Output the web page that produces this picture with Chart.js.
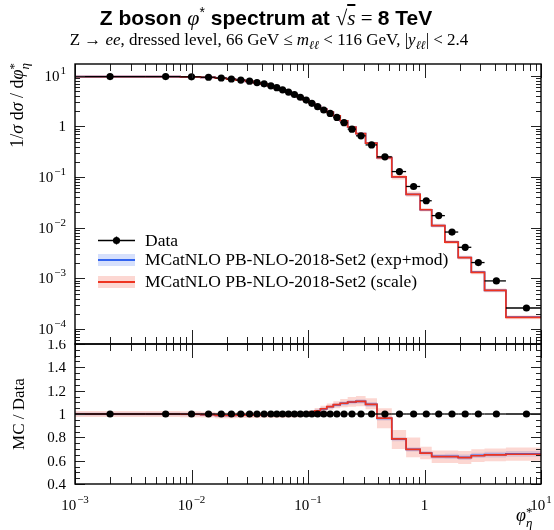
<!DOCTYPE html>
<html>
<head>
<meta charset="utf-8">
<script src="https://cdn.jsdelivr.net/npm/chart.js@4.4.1/dist/chart.umd.min.js"></script>
<style>
body { margin: 0; background: #fff; }
#wrap { position: relative; width: 554px; height: 530px; overflow: hidden; font-family: "Liberation Serif", serif; color: #000; }
canvas { position: absolute; left: 0; }
#main { top: 0; }
#ratio { top: 340px; }
.txt { position: absolute; white-space: nowrap; }
.ss { display: inline-block; vertical-align: -0.45em; line-height: 0.8em; font-size: 0.72em; text-align: left; }
.ss span { display: block; }
.rot { transform: rotate(-90deg); transform-origin: 50% 50%; }
</style>
</head>
<body>
<div id="wrap">
  <canvas id="main" width="554" height="350"></canvas>
  <canvas id="ratio" width="554" height="190"></canvas>

  <div class="txt" style="left:0; width:532px; text-align:center; top:4px; font: bold 21px 'Liberation Sans', sans-serif;">
    Z boson <span style="font: italic 22px 'Liberation Serif', serif;">φ</span><sup style="font-weight:normal;font-size:14px;">*</sup> spectrum at
    <span style="font: 21px 'Liberation Serif', serif;">√<span style="text-decoration: overline; font-style: italic;">s</span> = </span>8 TeV
  </div>
  <div class="txt" style="left:0; width:538px; text-align:center; top:30px; font-size:17px;">
    Z → <i>ee</i>, dressed level, 66 GeV ≤ <i>m</i><sub style="font-size:12px"><i>ℓℓ</i></sub> &lt; 116 GeV, |<i>y</i><sub style="font-size:12px"><i>ℓℓ</i></sub>| &lt; 2.4
  </div>

  <div class="txt rot" style="left:-82px; top:152px; width:200px; height:22px; text-align:right; font-size:18px;">
    1/<i>σ</i> d<i>σ</i> / d<i>φ</i><span class="ss"><span>*</span><span><i>η</i></span></span>
  </div>
  <div class="txt rot" style="left:-80px; top:403px; width:200px; height:22px; text-align:center; font-size:17px;">
    MC / Data
  </div>
  <div class="txt" style="left:516px; top:505px; width:30px; font-size:18px;">
    <i>φ</i><span class="ss"><span>*</span><span><i>η</i></span></span>
  </div>
</div>

<script>
// phi*_eta bin edges (first edge is 0, clamped to the axis minimum when drawn)
const binEdges = [0, 0.004, 0.008, 0.012, 0.016, 0.020, 0.024, 0.029, 0.034, 0.039, 0.045,
    0.051, 0.057, 0.064, 0.072, 0.081, 0.091, 0.102, 0.114, 0.128, 0.145, 0.165, 0.189,
    0.219, 0.258, 0.312, 0.391, 0.524, 0.695, 0.918, 1.153, 1.496, 1.947, 2.522, 3.277, 5, 10];

// measured 1/sigma dsigma/dphi*
const dataVals = [9.6, 9.6, 9.5, 9.3, 9.0, 8.6, 8.2, 7.8, 7.3, 6.9, 6.3, 5.8, 5.25, 4.75,
    4.25, 3.75, 3.3, 2.85, 2.45, 2.1, 1.8, 1.5, 1.18, 0.88, 0.65, 0.43, 0.25, 0.128, 0.065,
    0.034, 0.0173, 0.0082, 0.0041, 0.00205, 0.00089, 0.00026];

// MC / Data, PB-NLO-2018-Set2 (scale)
const scaleRatio = [1.000, 1.000, 0.998, 0.995, 0.988, 0.988, 0.991, 0.991, 0.991, 0.992,
    0.992, 0.993, 0.993, 0.994, 0.995, 0.996, 0.998, 1.011, 1.028, 1.045, 1.063, 1.080, 1.092,
    1.103, 1.109, 1.083, 0.964, 0.786, 0.697, 0.665, 0.634, 0.634, 0.626, 0.642, 0.649, 0.655];
const scaleLo = [0.975, 0.975, 0.973, 0.970, 0.963, 0.963, 0.966, 0.966, 0.966, 0.967,
    0.967, 0.968, 0.968, 0.969, 0.971, 0.973, 0.976, 0.990, 1.005, 1.020, 1.036, 1.050, 1.058,
    1.062, 1.066, 1.040, 0.878, 0.700, 0.630, 0.612, 0.580, 0.580, 0.572, 0.588, 0.594, 0.600];
const scaleHi = [1.025, 1.025, 1.023, 1.020, 1.013, 1.013, 1.016, 1.016, 1.016, 1.017,
    1.017, 1.018, 1.018, 1.019, 1.020, 1.021, 1.022, 1.034, 1.052, 1.070, 1.090, 1.110, 1.128,
    1.145, 1.155, 1.135, 1.050, 0.862, 0.798, 0.720, 0.688, 0.688, 0.682, 0.698, 0.705, 0.712];

// MC / Data, PB-NLO-2018-Set2 (exp+mod)
const expRatio = [1.000, 1.000, 0.998, 0.995, 0.989, 0.989, 0.991, 0.991, 0.992, 0.992,
    0.992, 0.993, 0.994, 0.994, 0.995, 0.996, 0.998, 1.010, 1.027, 1.044, 1.062, 1.079, 1.091,
    1.102, 1.108, 1.082, 0.963, 0.785, 0.696, 0.664, 0.636, 0.637, 0.629, 0.645, 0.652, 0.658];
const expLo = [0.988, 0.988, 0.986, 0.983, 0.977, 0.977, 0.979, 0.979, 0.980, 0.980,
    0.980, 0.981, 0.982, 0.982, 0.983, 0.984, 0.986, 0.997, 1.013, 1.030, 1.047, 1.063, 1.074,
    1.084, 1.089, 1.062, 0.945, 0.767, 0.678, 0.645, 0.617, 0.614, 0.606, 0.622, 0.628, 0.634];
const expHi = [1.012, 1.012, 1.010, 1.007, 1.001, 1.001, 1.003, 1.003, 1.004, 1.004,
    1.004, 1.005, 1.006, 1.006, 1.007, 1.008, 1.010, 1.023, 1.041, 1.058, 1.077, 1.095, 1.108,
    1.120, 1.127, 1.102, 0.981, 0.803, 0.714, 0.683, 0.655, 0.660, 0.652, 0.668, 0.676, 0.682];

const X_MIN = 1e-3, X_MAX = 10;
const Y_MIN = 5.06e-5, Y_MAX = 17.0;
const R_MIN = 0.4, R_MAX = 1.6;

const RED = 'rgb(238, 52, 32)';
const RED_BAND = 'rgba(245, 110, 95, 0.28)';
const BLUE = 'rgb(50, 100, 240)';
const BLUE_BAND = 'rgba(90, 130, 245, 0.25)';
const FONT = '"Liberation Serif", serif';

const binCentres = dataVals.map((v, i) => (binEdges[i] + binEdges[i + 1]) / 2);

function histPoints(vals) {
    return binEdges.map((e, i) => ({x: Math.max(e, X_MIN), y: vals[Math.min(i, vals.length - 1)]}));
}

function times(a, b) {
    return a.map((v, i) => v * b[i]);
}

// chart.js 'before' = horizontal first, then vertical at the next edge
function stepLine(vals, color, order) {
    return {data: histPoints(vals), stepped: 'before', borderColor: color, borderWidth: 1.7,
        pointRadius: 0, fill: false, order: order};
}

function bandEdges(lo, hi, color, order) {
    return [
        {data: histPoints(hi), stepped: 'before', borderWidth: 0, borderColor: 'rgba(0,0,0,0)',
            pointRadius: 0, fill: false, order: order},
        {data: histPoints(lo), stepped: 'before', borderWidth: 0, borderColor: 'rgba(0,0,0,0)',
            pointRadius: 0, fill: '-1', backgroundColor: color, order: order}
    ];
}

function dataSet(vals) {
    return {data: vals.map((v, i) => ({x: binCentres[i], y: v})), showLine: false,
        pointRadius: 3.6, pointBackgroundColor: '#000', pointBorderWidth: 0, order: 1, isData: true};
}

function logTicks(min, max) {
    const out = [];
    for (let d = Math.floor(Math.log10(min)); d <= Math.ceil(Math.log10(max)); d++) {
        for (let m = 1; m < 10; m++) {
            const v = m * Math.pow(10, d);
            if (v >= min * 0.9999 && v <= max * 1.0001) out.push({v: v, major: m === 1, exp: d});
        }
    }
    return out;
}

function linTicks(min, max, step, majorStep) {
    const out = [];
    for (let k = Math.round(min / step); k <= Math.round(max / step); k++) {
        const v = k * step;
        out.push({v: v, major: Math.abs(v / majorStep - Math.round(v / majorStep)) < 1e-6});
    }
    return out;
}

function powLabel(ctx, exp, cx, cy, align) {
    // "10" with a raised exponent, "1" for 10^0
    ctx.fillStyle = '#000';
    ctx.textBaseline = 'alphabetic';
    ctx.font = '15px ' + FONT;
    if (exp === 0) {
        const w = ctx.measureText('1').width;
        ctx.fillText('1', align === 'right' ? cx - w : cx - w / 2, cy + 5);
        return;
    }
    const base = '10';
    const sup = exp < 0 ? '\u2212' + (-exp) : String(exp);
    const bw = ctx.measureText(base).width;
    ctx.font = '11px ' + FONT;
    const sw = ctx.measureText(sup).width;
    const total = bw + 1 + sw;
    const x0 = align === 'right' ? cx - total : cx - total / 2;
    ctx.font = '15px ' + FONT;
    ctx.fillText(base, x0, cy + 5);
    ctx.font = '11px ' + FONT;
    ctx.fillText(sup, x0 + bw + 1, cy - 2);
}

function seg(ctx, x1, y1, x2, y2) {
    ctx.beginPath();
    ctx.moveTo(x1, y1);
    ctx.lineTo(x2, y2);
    ctx.stroke();
}

// horizontal bin-width bars of the data points
const errorBars = {
    id: 'errorBars',
    beforeDatasetDraw(chart, args) {
        const ds = chart.data.datasets[args.index];
        if (!ds.isData) return;
        const {ctx, scales} = chart;
        ctx.save();
        ctx.strokeStyle = '#000';
        ctx.lineWidth = 1.3;
        ds.data.forEach((p, i) => {
            const y = scales.y.getPixelForValue(p.y);
            const x1 = scales.x.getPixelForValue(Math.max(binEdges[i], X_MIN));
            const x2 = scales.x.getPixelForValue(binEdges[i + 1]);
            seg(ctx, x1, y, x2, y);
        });
        ctx.restore();
    }
};

// frame with inward ticks on all four sides, plus custom labels
const frame = {
    id: 'frame',
    afterDraw(chart, args, opts) {
        const {ctx, chartArea: a, scales} = chart;
        ctx.save();
        ctx.strokeStyle = '#222';
        ctx.lineWidth = 1;
        logTicks(X_MIN, X_MAX).forEach(t => {
            const x = Math.round(scales.x.getPixelForValue(t.v)) + 0.5;
            const len = t.major ? 14 : 7;
            seg(ctx, x, a.top, x, a.top + len);
            seg(ctx, x, a.bottom, x, a.bottom - len);
        });
        const yt = opts.kind === 'main' ? logTicks(Y_MIN, Y_MAX) : linTicks(R_MIN, R_MAX, 0.05, 0.2);
        yt.forEach(t => {
            const y = Math.round(scales.y.getPixelForValue(t.v)) + 0.5;
            const len = t.major ? 10 : 5;
            seg(ctx, a.left, y, a.left + len, y);
            seg(ctx, a.right, y, a.right - len, y);
        });
        ctx.strokeStyle = '#000';
        ctx.lineWidth = 1.4;
        ctx.strokeRect(a.left, a.top, a.right - a.left, a.bottom - a.top);

        if (opts.kind === 'main') {
            yt.filter(t => t.major).forEach(t => {
                powLabel(ctx, t.exp, a.left - 9, scales.y.getPixelForValue(t.v), 'right');
            });
            drawLegend(ctx);
        } else {
            ctx.fillStyle = '#000';
            ctx.font = '15px ' + FONT;
            ctx.textAlign = 'right';
            ctx.textBaseline = 'middle';
            yt.filter(t => t.major).forEach(t => {
                ctx.fillText(String(Math.round(t.v * 10) / 10), a.left - 9, scales.y.getPixelForValue(t.v) + 1);
            });
            ctx.textAlign = 'left';
            logTicks(X_MIN, X_MAX).filter(t => t.major).forEach(t => {
                powLabel(ctx, t.exp, scales.x.getPixelForValue(t.v), a.bottom + 21, 'centre');
            });
        }
        ctx.restore();
    }
};

function drawLegend(ctx) {
    const x1 = 98, x2 = 135, tx = 145;
    ctx.font = '17.5px ' + FONT;
    ctx.textBaseline = 'middle';
    // Data
    ctx.strokeStyle = '#000';
    ctx.lineWidth = 1.3;
    seg(ctx, x1, 240.5, x2, 240.5);
    seg(ctx, 116.5, 236.5, 116.5, 244.5);
    ctx.fillStyle = '#000';
    ctx.beginPath();
    ctx.arc(116.5, 240.5, 3.6, 0, Math.PI * 2);
    ctx.fill();
    ctx.fillText('Data', tx, 241);
    // MC rows
    [[260, BLUE_BAND, BLUE, 'MCatNLO PB-NLO-2018-Set2 (exp+mod)'],
     [282, RED_BAND, RED, 'MCatNLO PB-NLO-2018-Set2 (scale)']].forEach(([y, band, line, label]) => {
        ctx.fillStyle = band;
        ctx.fillRect(x1, y - 6, x2 - x1, 12);
        ctx.strokeStyle = line;
        ctx.lineWidth = 1.8;
        seg(ctx, x1, y, x2, y);
        ctx.fillStyle = '#000';
        ctx.fillText(label, tx, y + 0.5);
    });
}

const mainDatasets = [
    ...bandEdges(times(dataVals, expLo), times(dataVals, expHi), BLUE_BAND, 6),
    ...bandEdges(times(dataVals, scaleLo), times(dataVals, scaleHi), RED_BAND, 5),
    stepLine(times(dataVals, expRatio), BLUE, 4),
    stepLine(times(dataVals, scaleRatio), RED, 3),
    dataSet(dataVals)
];

const ratioDatasets = [
    ...bandEdges(expLo, expHi, BLUE_BAND, 6),
    ...bandEdges(scaleLo, scaleHi, RED_BAND, 5),
    stepLine(expRatio, BLUE, 4),
    stepLine(scaleRatio, RED, 3),
    dataSet(dataVals.map(v => v / v))
];

const common = {
    responsive: false,
    animation: false,
    events: [],
    plugins: {legend: {display: false}, tooltip: {enabled: false}, title: {display: false}}
};

new Chart(document.getElementById('main'), {
    type: 'line',
    data: {datasets: mainDatasets},
    plugins: [errorBars, frame],
    options: Object.assign({}, common, {
        layout: {padding: {left: 0, right: 13, top: 64, bottom: 6}},
        plugins: Object.assign({}, common.plugins, {frame: {kind: 'main'}}),
        scales: {
            x: {type: 'logarithmic', min: X_MIN, max: X_MAX, display: false},
            y: {type: 'logarithmic', min: Y_MIN, max: Y_MAX,
                grid: {display: false, drawTicks: false}, border: {display: false},
                ticks: {display: false},
                afterFit: s => { s.width = 75; }}
        }
    })
});

new Chart(document.getElementById('ratio'), {
    type: 'line',
    data: {datasets: ratioDatasets},
    plugins: [errorBars, frame],
    options: Object.assign({}, common, {
        layout: {padding: {left: 0, right: 13, top: 4, bottom: 0}},
        plugins: Object.assign({}, common.plugins, {frame: {kind: 'ratio'}}),
        scales: {
            x: {type: 'logarithmic', min: X_MIN, max: X_MAX,
                grid: {display: false, drawTicks: false}, border: {display: false},
                ticks: {display: false},
                afterFit: s => { s.height = 46; }},
            y: {min: R_MIN, max: R_MAX,
                grid: {display: false, drawTicks: false}, border: {display: false},
                ticks: {display: false},
                afterFit: s => { s.width = 75; }}
        }
    })
});
</script>
</body>
</html>
